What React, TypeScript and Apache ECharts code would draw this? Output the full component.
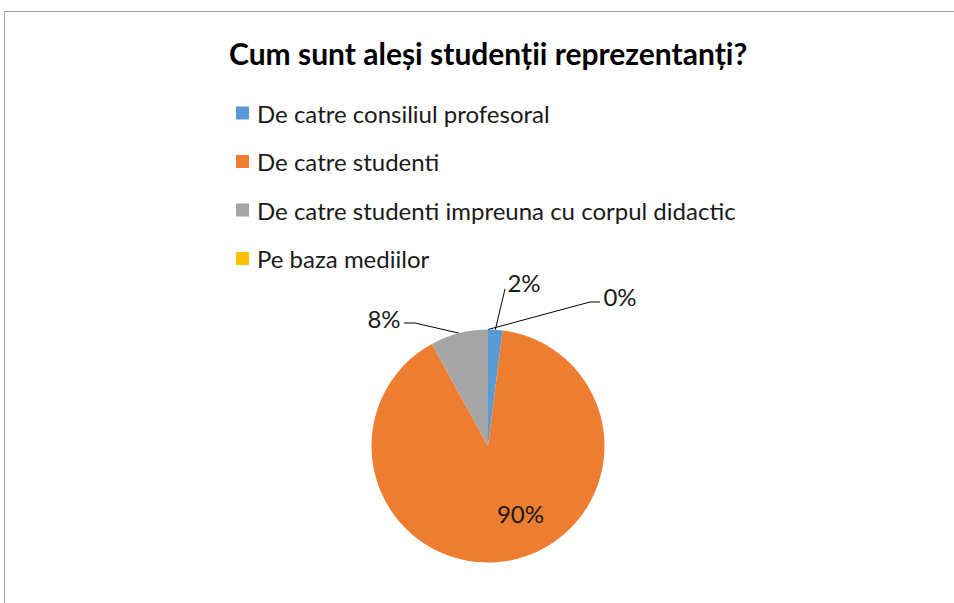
import React, { useEffect, useRef } from "react";
import * as echarts from "echarts";

const titleText = "Cum sunt aleși studenții reprezentanți?";
const categories = [
  "De catre consiliul profesoral",
  "De catre studenti",
  "De catre studenti impreuna cu corpul didactic",
  "Pe baza mediilor",
];
const values = [1, 45, 4, 0];
const colors = ["#5B9BD5", "#ED7D31", "#A5A5A5", "#FFC000"];

const W = 954;
const H = 603;
const CX = 488;
const CY = 446;
const R = 116.5;

export default function App() {
  const ref = useRef<HTMLDivElement>(null);
  useEffect(() => {
    if (!ref.current) return;
    const chart = echarts.init(ref.current, undefined, { renderer: "svg" });
    const font = "Lato";
    const labelPos: Record<number, { lx: number; ly: number; bend: number[]; end: number[] }> = {
      0: { lx: 36, ly: -164, bend: [17, -157], end: [17, -157] },
      2: { lx: -104, ly: -128, bend: [-73, -123], end: [-84, -123] },
      3: { lx: 132, ly: -150, bend: [102, -144], end: [112, -144] },
    };
    chart.setOption({
      animation: false,
      backgroundColor: "#ffffff",
      title: {
        text: titleText,
        left: 224,
        top: 30,
        textStyle: {
          fontFamily: font,
          fontWeight: "bold",
          fontSize: 30,
          color: "#000000",
          lineHeight: 36,
        },
      },
      legend: {
        orient: "vertical",
        left: 231,
        top: 94,
        icon: "rect",
        itemWidth: 13,
        itemHeight: 13,
        itemGap: 20.5,
        data: categories,
        textStyle: {
          fontFamily: font,
          fontSize: 24,
          color: "#1a1a1a",
          lineHeight: 28,
          padding: [0, 0, 0, 3],
        },
      },
      graphic: [
        {
          type: "line",
          shape: { x1: 4, y1: 11.5, x2: W, y2: 11.5 },
          style: { stroke: "#A6A6A6", lineWidth: 1 },
          silent: true,
        },
        {
          type: "line",
          shape: { x1: 4.5, y1: 11, x2: 4.5, y2: H },
          style: { stroke: "#A6A6A6", lineWidth: 1 },
          silent: true,
        },
      ],
      series: [
        {
          type: "pie",
          center: [CX, CY],
          radius: [0, R],
          startAngle: 90,
          clockwise: true,
          avoidLabelOverlap: false,
          color: colors,
          itemStyle: { borderColor: "#ffffff", borderWidth: 0 },
          label: {
            show: true,
            position: "outside",
            formatter: "{d}%",
            fontFamily: font,
            fontSize: 24,
            color: "#1a1a1a",
          },
          labelLine: {
            show: true,
            lineStyle: { color: "#000000", width: 1 },
          },
          labelLayout: (params: any) => {
            const p = labelPos[params.dataIndex];
            if (!p) return {};
            const start = params.labelLinePoints ? params.labelLinePoints[0] : [CX, CY - R];
            return {
              x: CX + p.lx,
              y: CY + p.ly,
              align: "center",
              verticalAlign: "middle",
              labelLinePoints: [
                start,
                [CX + p.bend[0], CY + p.bend[1]],
                [CX + p.end[0], CY + p.end[1]],
              ],
            };
          },
          data: categories.map((name, i) =>
            i === 1
              ? {
                  name,
                  value: values[i],
                  label: { position: "inside", offset: [21, 7] },
                  labelLine: { show: false },
                }
              : { name, value: values[i] }
          ),
        },
      ],
    });
    return () => chart.dispose();
  }, []);
  return (
    <div
      ref={ref}
      style={{ position: "absolute", left: 0, top: 0, width: W, height: H }}
    />
  );
}
